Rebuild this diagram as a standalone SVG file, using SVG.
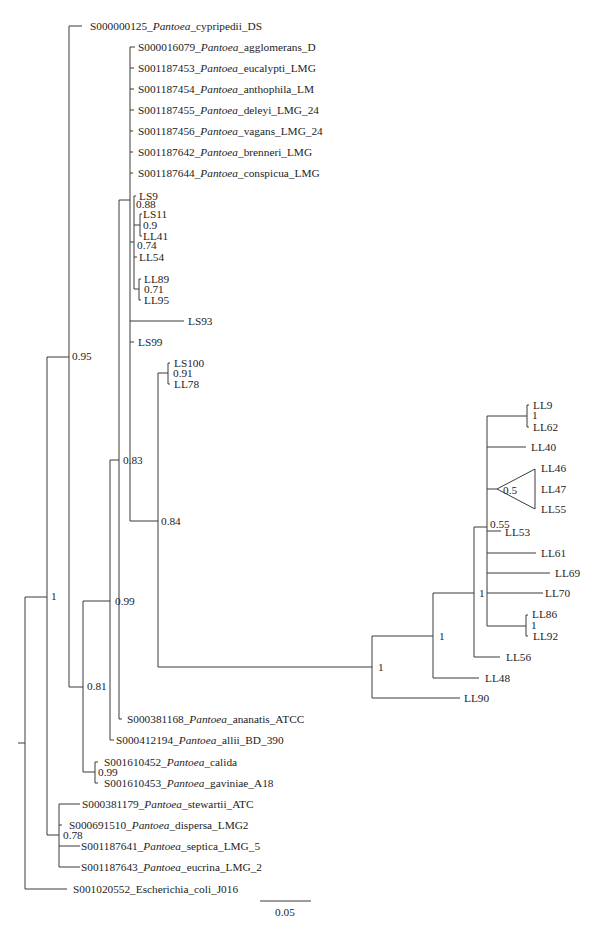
<svg xmlns="http://www.w3.org/2000/svg" width="600" height="938" viewBox="0 0 600 938">
<style>
text{font-family:"Liberation Serif","Times New Roman",serif;font-size:11.3px;fill:#222}
.i{font-style:italic}
.br{fill:none;stroke:#3a3a3a;stroke-width:1}
</style>
<rect width="600" height="938" fill="#fff"/>
<g id="connectors" class="br">
<path d="M18,743H25M25,597V889M25,597H47M25,889H67
M47,357V835M47,357H69M47,835H59
M59,804V867M59,804H80M59,825H62M59,846H80M59,867H80
M69,26V687M69,26H82M69,687H83
M83,601V772M83,601H110M83,772H95
M95,762V783M95,762H98M95,783H98
M110,460V740M110,460H119M110,740H114
M119,200V719M119,200H130M119,719H122
M130,47V521M130,47H135M130,68H134M130,89H134M130,110H134M130,131H133M130,152H133M130,173H133M130,242H134M130,321H184M130,342H134M130,521H158
M134,196V289M134,196H136M134,225H140M140,214V236M140,214H142M140,236H142M134,257H137M134,289H139M139,279V300M139,279H141M139,300H141
M158,373V667M158,373H168M168,363V384M168,363H170M168,384H170M158,667H372
M372,636V698M372,636H433M372,698H460
M433,593V678M433,593H474M433,678H479
M474,527V657M474,527H487M474,657H500
M487,416V626M487,416H527M527,405V427M527,405H529M527,427H529
M487,447H526M487,489H497M487,531H501M487,553H536M487,573H550M487,593H543
M487,626H526M526,615V636M526,615H528M526,636H528"/>
<polygon points="497,489 535,469 535,509"/>
<path d="M260,901H311"/>
</g>
<g id="leaves">
<g id="n-cypripedii"><text x="90" y="30">S000000125_<tspan class="i">Pantoea</tspan>_cypripedii_DS</text></g>
<g id="n-agglomerans"><text x="138" y="51">S000016079_<tspan class="i">Pantoea</tspan>_agglomerans_D</text></g>
<g id="n-eucalypti"><text x="138" y="72">S001187453_<tspan class="i">Pantoea</tspan>_eucalypti_LMG</text></g>
<g id="n-anthophila"><text x="138" y="93">S001187454_<tspan class="i">Pantoea</tspan>_anthophila_LM</text></g>
<g id="n-deleyi"><text x="138" y="114">S001187455_<tspan class="i">Pantoea</tspan>_deleyi_LMG_24</text></g>
<g id="n-vagans"><text x="138" y="135">S001187456_<tspan class="i">Pantoea</tspan>_vagans_LMG_24</text></g>
<g id="n-brenneri"><text x="138" y="156">S001187642_<tspan class="i">Pantoea</tspan>_brenneri_LMG</text></g>
<g id="n-conspicua"><text x="138" y="177">S001187644_<tspan class="i">Pantoea</tspan>_conspicua_LMG</text></g>
<g id="n-LS9"><text x="139" y="200">LS9</text></g>
<g id="n-LS11"><text x="143" y="218">LS11</text></g>
<g id="n-LL41"><text x="143" y="240">LL41</text></g>
<g id="n-LL54"><text x="139" y="261">LL54</text></g>
<g id="n-LL89"><text x="144" y="283">LL89</text></g>
<g id="n-LL95"><text x="144" y="304">LL95</text></g>
<g id="n-LS93"><text x="188" y="325">LS93</text></g>
<g id="n-LS99"><text x="138" y="346">LS99</text></g>
<g id="n-LS100"><text x="174" y="367">LS100</text></g>
<g id="n-LL78"><text x="174" y="388">LL78</text></g>
<g id="n-LL9"><text x="533" y="409">LL9</text></g>
<g id="n-LL62"><text x="533" y="431">LL62</text></g>
<g id="n-LL40"><text x="531" y="451">LL40</text></g>
<g id="n-LL46"><text x="541" y="472">LL46</text></g>
<g id="n-LL47"><text x="541" y="493">LL47</text></g>
<g id="n-LL55"><text x="541" y="513">LL55</text></g>
<g id="n-LL53"><text x="505" y="536">LL53</text></g>
<g id="n-LL61"><text x="541" y="557">LL61</text></g>
<g id="n-LL69"><text x="555" y="577">LL69</text></g>
<g id="n-LL70"><text x="545" y="597">LL70</text></g>
<g id="n-LL86"><text x="532" y="618">LL86</text></g>
<g id="n-LL92"><text x="533" y="640">LL92</text></g>
<g id="n-LL56"><text x="506" y="661">LL56</text></g>
<g id="n-LL48"><text x="485" y="682">LL48</text></g>
<g id="n-LL90"><text x="464" y="702">LL90</text></g>
<g id="n-ananatis"><text x="127" y="723">S000381168_<tspan class="i">Pantoea</tspan>_ananatis_ATCC</text></g>
<g id="n-allii"><text x="116" y="744">S000412194_<tspan class="i">Pantoea</tspan>_allii_BD_390</text></g>
<g id="n-calida"><text x="104" y="766">S001610452_<tspan class="i">Pantoea</tspan>_calida</text></g>
<g id="n-gaviniae"><text x="104" y="787">S001610453_<tspan class="i">Pantoea</tspan>_gaviniae_A18</text></g>
<g id="n-stewartii"><text x="82" y="808">S000381179_<tspan class="i">Pantoea</tspan>_stewartii_ATC</text></g>
<g id="n-dispersa"><text x="69" y="829">S000691510_<tspan class="i">Pantoea</tspan>_dispersa_LMG2</text></g>
<g id="n-septica"><text x="81" y="850">S001187641_<tspan class="i">Pantoea</tspan>_septica_LMG_5</text></g>
<g id="n-eucrina"><text x="81" y="871">S001187643_<tspan class="i">Pantoea</tspan>_eucrina_LMG_2</text></g>
<g id="n-ecoli"><text x="73" y="893">S001020552_Escherichia_coli_J016</text></g>
</g>
<g id="supports">
<g id="s-root1"><text x="51" y="600">1</text></g>
<g id="s-095"><text x="72" y="360">0.95</text></g>
<g id="s-081"><text x="87" y="690">0.81</text></g>
<g id="s-099a"><text x="115" y="605">0.99</text></g>
<g id="s-083"><text x="123" y="464">0.83</text></g>
<g id="s-084"><text x="161" y="525">0.84</text></g>
<g id="s-088"><text x="136" y="208">0.88</text></g>
<g id="s-09"><text x="143" y="229">0.9</text></g>
<g id="s-074"><text x="137" y="249">0.74</text></g>
<g id="s-071"><text x="144" y="293">0.71</text></g>
<g id="s-091"><text x="173" y="377">0.91</text></g>
<g id="s-099b"><text x="98" y="776">0.99</text></g>
<g id="s-078"><text x="63" y="839">0.78</text></g>
<g id="s-r1"><text x="378" y="671">1</text></g>
<g id="s-r2"><text x="439" y="640">1</text></g>
<g id="s-r3"><text x="479" y="597">1</text></g>
<g id="s-055"><text x="490" y="528">0.55</text></g>
<g id="s-05"><text x="503" y="494">0.5</text></g>
<g id="s-ll9"><text x="532" y="419">1</text></g>
<g id="s-ll86"><text x="531" y="629">1</text></g>
</g>
<g id="scale"><text x="285" y="916" text-anchor="middle">0.05</text></g>
</svg>
